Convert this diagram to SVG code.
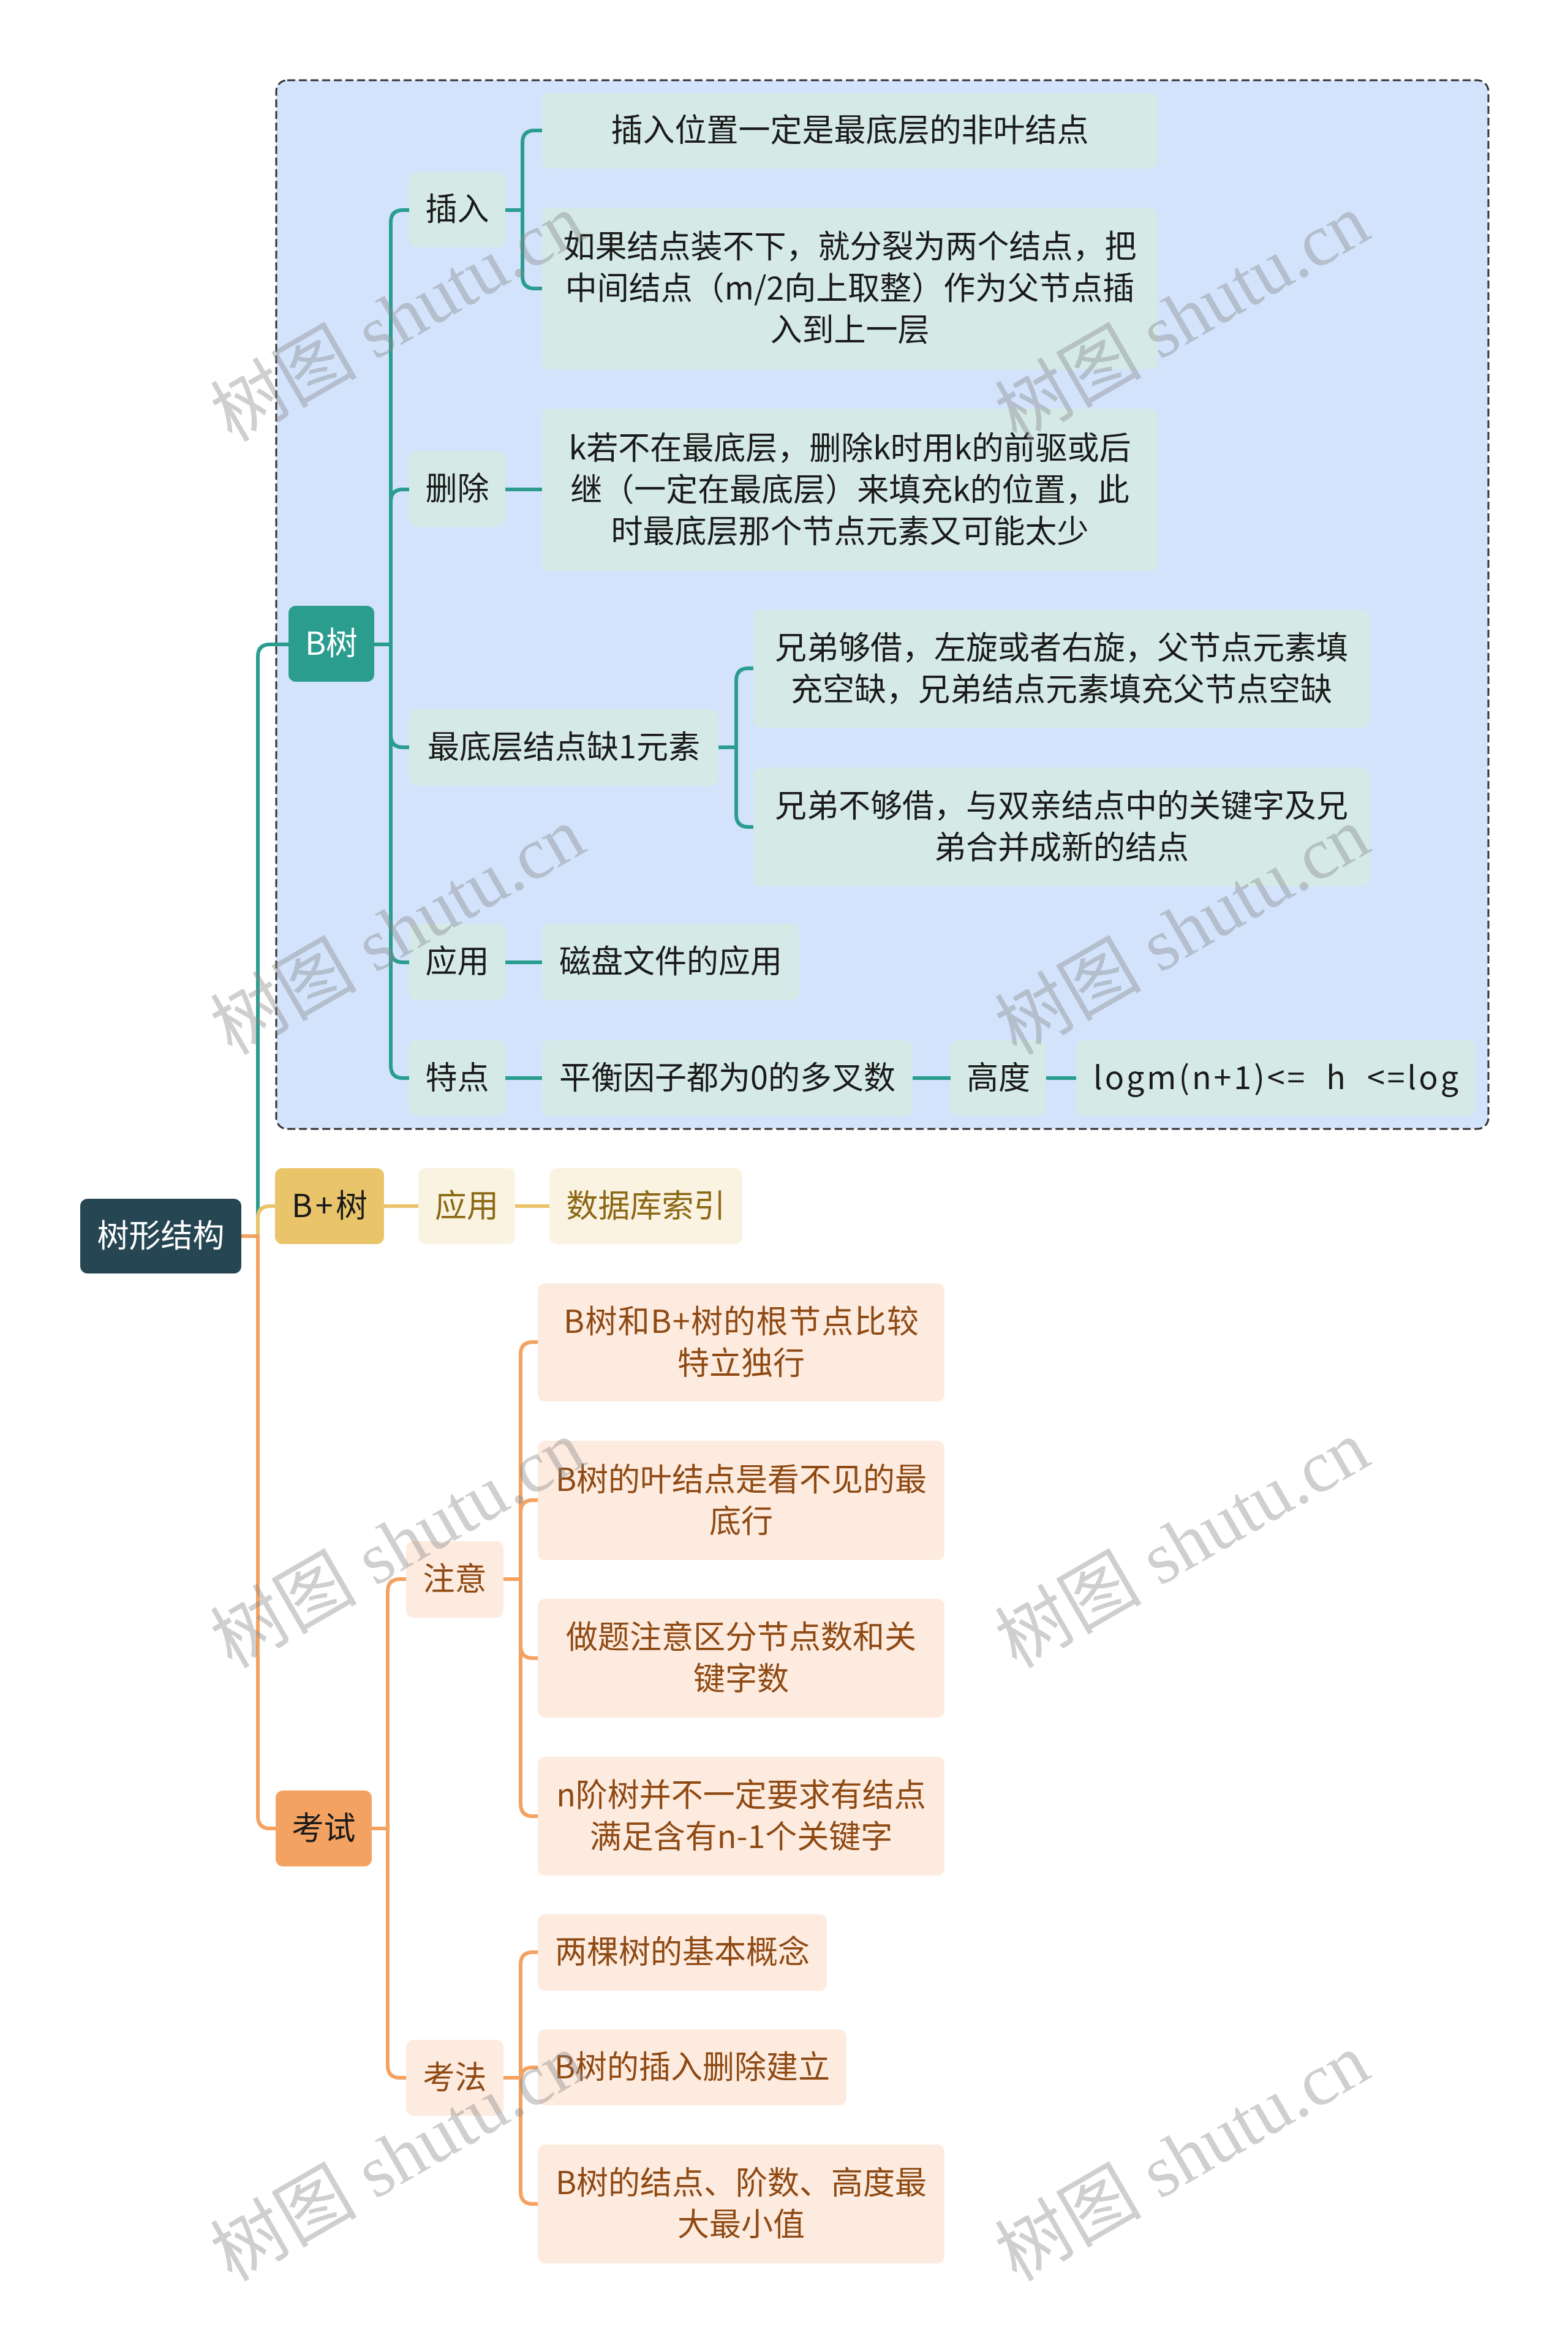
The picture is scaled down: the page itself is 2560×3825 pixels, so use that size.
<svg xmlns="http://www.w3.org/2000/svg" width="2560" height="3825" viewBox="0 0 2560 3825">
<style>
.t{font-family:'Noto Sans CJK SC','Noto Sans',sans-serif;font-size:52px;text-anchor:middle}
.w{fill:#ffffff}
.dk{fill:#1a1a1a}
.yl{fill:#8b6914}
.br{fill:#8f4a14}
.c{fill:none;stroke-width:6;stroke-linecap:butt;stroke-linejoin:round}
.teal{stroke:#2a9d8f}
.yel{stroke:#e9c46a}
.org{stroke:#f4a261}
.nb{fill:#d5eae6}
.ny{fill:#fbf3e1}
.no{fill:#fdebdf}
.wm{font-family:'Liberation Serif','Noto Sans CJK SC',serif;font-size:120px;fill:#888888;fill-opacity:0.4;text-anchor:middle}
</style>
<rect width="2560" height="3825" fill="#ffffff"/>
<rect id="btree-area" x="451" y="131" width="1979" height="1712" rx="18" fill="#d3e3fb" stroke="#333333" stroke-width="3" stroke-dasharray="13 6"/>
<g id="connectors">
<path class="c teal" d="M394,2018 H421 V1072 Q421,1052 441,1052 H471"/>
<path class="c teal" d="M611,1052 H638 V363 Q638,343 658,343 H668"/>
<path class="c teal" d="M611,1052 H638 V819 Q638,799 658,799 H668"/>
<path class="c teal" d="M611,1052 H638 V1200 Q638,1220 658,1220 H668"/>
<path class="c teal" d="M611,1052 H638 V1551 Q638,1571 658,1571 H668"/>
<path class="c teal" d="M611,1052 H638 V1740 Q638,1760 658,1760 H668"/>
<path class="c teal" d="M825,343 H853 V233 Q853,213 873,213 H885"/>
<path class="c teal" d="M825,343 H853 V451 Q853,471 873,471 H885"/>
<path class="c teal" d="M825,799 H885"/>
<path class="c teal" d="M1173,1220 H1202 V1111 Q1202,1091 1222,1091 H1230"/>
<path class="c teal" d="M1173,1220 H1202 V1330 Q1202,1350 1222,1350 H1230"/>
<path class="c teal" d="M825,1571 H885"/>
<path class="c teal" d="M825,1760 H885"/>
<path class="c teal" d="M1490,1760 H1552"/>
<path class="c teal" d="M1708,1760 H1757"/>
<path class="c yel" d="M394,2018 H421 V1989 Q421,1969 441,1969 H449"/>
<path class="c yel" d="M627,1969 H683"/>
<path class="c yel" d="M841,1969 H897"/>
<path class="c org" d="M394,2018 H421 V2965 Q421,2985 441,2985 H450"/>
<path class="c org" d="M607,2985 H633 V2598 Q633,2578 653,2578 H663"/>
<path class="c org" d="M607,2985 H633 V3372 Q633,3392 653,3392 H663"/>
<path class="c org" d="M822,2578 H850 V2211 Q850,2191 870,2191 H878"/>
<path class="c org" d="M822,2578 H850 V2469 Q850,2449 870,2449 H878"/>
<path class="c org" d="M822,2578 H850 V2687 Q850,2707 870,2707 H878"/>
<path class="c org" d="M822,2578 H850 V2945 Q850,2965 870,2965 H878"/>
<path class="c org" d="M822,3392 H850 V3207 Q850,3187 870,3187 H878"/>
<path class="c org" d="M822,3392 H850 V3395 Q850,3375 870,3375 H878"/>
<path class="c org" d="M822,3392 H850 V3578 Q850,3598 870,3598 H878"/>
</g>
<g id="root"><rect x="131" y="1957" width="263" height="122" rx="12" fill="#264653"/><text class="t w" x="262.5" y="2036">树形结构</text></g>
<g id="btree"><rect x="471" y="989" width="140" height="124" rx="12" fill="#2a9d8f"/><text class="t w" x="541" y="1069">B树</text></g>
<g id="bplus"><rect x="449" y="1907" width="178" height="124" rx="12" fill="#e9c46a"/><text class="t dk" x="538" y="1987" textLength="124" lengthAdjust="spacing">B+树</text></g>
<g id="exam"><rect x="450" y="2923" width="157" height="124" rx="12" fill="#f4a261"/><text class="t dk" x="528.5" y="3003">考试</text></g>
<g id="insert"><rect class="nb" x="668" y="281" width="157" height="123" rx="12"/><text class="t dk" x="746.5" y="360">插入</text></g>
<g id="delete"><rect class="nb" x="668" y="737" width="157" height="123" rx="12"/><text class="t dk" x="746.5" y="816">删除</text></g>
<g id="lack"><rect class="nb" x="668" y="1158" width="505" height="125" rx="12"/><text class="t dk" x="920.5" y="1238">最底层结点缺1元素</text></g>
<g id="apply"><rect class="nb" x="668" y="1508" width="157" height="125" rx="12"/><text class="t dk" x="746.5" y="1588">应用</text></g>
<g id="feature"><rect class="nb" x="668" y="1698" width="157" height="124" rx="12"/><text class="t dk" x="746.5" y="1778">特点</text></g>
<g id="insert1"><rect class="nb" x="885" y="152" width="1005" height="123" rx="12"/><text class="t dk" x="1387.5" y="231">插入位置一定是最底层的非叶结点</text></g>
<g id="insert2"><rect class="nb" x="885" y="339" width="1005" height="264" rx="12"/><text class="t dk"><tspan x="1387.5" y="421">如果结点装不下，就分裂为两个结点，把</tspan><tspan x="1387.5" y="489">中间结点（m/2向上取整）作为父节点插</tspan><tspan x="1387.5" y="557">入到上一层</tspan></text></g>
<g id="delete1"><rect class="nb" x="885" y="667" width="1005" height="265" rx="12"/><text class="t dk"><tspan x="1387.5" y="749.5">k若不在最底层，删除k时用k的前驱或后</tspan><tspan x="1387.5" y="817.5">继（一定在最底层）来填充k的位置，此</tspan><tspan x="1387.5" y="885.5">时最底层那个节点元素又可能太少</tspan></text></g>
<g id="brother1"><rect class="nb" x="1230" y="995" width="1006" height="193" rx="12"/><text class="t dk"><tspan x="1733" y="1075.5">兄弟够借，左旋或者右旋，父节点元素填</tspan><tspan x="1733" y="1143.5">充空缺，兄弟结点元素填充父节点空缺</tspan></text></g>
<g id="brother2"><rect class="nb" x="1230" y="1253" width="1006" height="194" rx="12"/><text class="t dk"><tspan x="1733" y="1334">兄弟不够借，与双亲结点中的关键字及兄</tspan><tspan x="1733" y="1402">弟合并成新的结点</tspan></text></g>
<g id="disk"><rect class="nb" x="885" y="1508" width="420" height="125" rx="12"/><text class="t dk" x="1095" y="1588">磁盘文件的应用</text></g>
<g id="balance"><rect class="nb" x="885" y="1698" width="605" height="124" rx="12"/><text class="t dk" x="1187.5" y="1778">平衡因子都为0的多叉数</text></g>
<g id="height"><rect class="nb" x="1552" y="1698" width="156" height="124" rx="12"/><text class="t dk" x="1630" y="1778">高度</text></g>
<g id="logm"><rect class="nb" x="1757" y="1698" width="652" height="124" rx="12"/><text class="t dk" x="2083" y="1778" xml:space="preserve" textLength="596" lengthAdjust="spacing">logm(n+1)&lt;=  h  &lt;=log</text></g>
<g id="bp-apply"><rect class="ny" x="683" y="1907" width="158" height="124" rx="12"/><text class="t yl" x="762" y="1987">应用</text></g>
<g id="bp-db"><rect class="ny" x="897" y="1907" width="315" height="124" rx="12"/><text class="t yl" x="1054.5" y="1987">数据库索引</text></g>
<g id="notice"><rect class="no" x="663" y="2516" width="159" height="125" rx="12"/><text class="t br" x="742.5" y="2596">注意</text></g>
<g id="method"><rect class="no" x="663" y="3330" width="159" height="124" rx="12"/><text class="t br" x="742.5" y="3410">考法</text></g>
<g id="notice1"><rect class="no" x="878" y="2095" width="664" height="193" rx="12"/><text class="t br"><tspan x="1210" y="2175.5" textLength="580" lengthAdjust="spacing">B树和B+树的根节点比较</tspan><tspan x="1210" y="2243.5">特立独行</tspan></text></g>
<g id="notice2"><rect class="no" x="878" y="2352" width="664" height="195" rx="12"/><text class="t br"><tspan x="1210" y="2433.5">B树的叶结点是看不见的最</tspan><tspan x="1210" y="2501.5">底行</tspan></text></g>
<g id="notice3"><rect class="no" x="878" y="2610" width="664" height="194" rx="12"/><text class="t br"><tspan x="1210" y="2691">做题注意区分节点数和关</tspan><tspan x="1210" y="2759">键字数</tspan></text></g>
<g id="notice4"><rect class="no" x="878" y="2868" width="664" height="194" rx="12"/><text class="t br"><tspan x="1210" y="2949">n阶树并不一定要求有结点</tspan><tspan x="1210" y="3017">满足含有n-1个关键字</tspan></text></g>
<g id="method1"><rect class="no" x="878" y="3125" width="472" height="125" rx="12"/><text class="t br" x="1114" y="3205">两棵树的基本概念</text></g>
<g id="method2"><rect class="no" x="878" y="3313" width="504" height="124" rx="12"/><text class="t br" x="1130" y="3393">B树的插入删除建立</text></g>
<g id="method3"><rect class="no" x="878" y="3501" width="664" height="194" rx="12"/><text class="t br"><tspan x="1210" y="3582">B树的结点、阶数、高度最</tspan><tspan x="1210" y="3650">大最小值</tspan></text></g>
<g id="watermarks">
<text class="wm" transform="translate(650,520) rotate(-30)" y="40">树图 shutu.cn</text>
<text class="wm" transform="translate(1931,520) rotate(-30)" y="40">树图 shutu.cn</text>
<text class="wm" transform="translate(650,1521) rotate(-30)" y="40">树图 shutu.cn</text>
<text class="wm" transform="translate(1931,1521) rotate(-30)" y="40">树图 shutu.cn</text>
<text class="wm" transform="translate(650,2522) rotate(-30)" y="40">树图 shutu.cn</text>
<text class="wm" transform="translate(1931,2522) rotate(-30)" y="40">树图 shutu.cn</text>
<text class="wm" transform="translate(650,3523) rotate(-30)" y="40">树图 shutu.cn</text>
<text class="wm" transform="translate(1931,3523) rotate(-30)" y="40">树图 shutu.cn</text>
</g>
</svg>
